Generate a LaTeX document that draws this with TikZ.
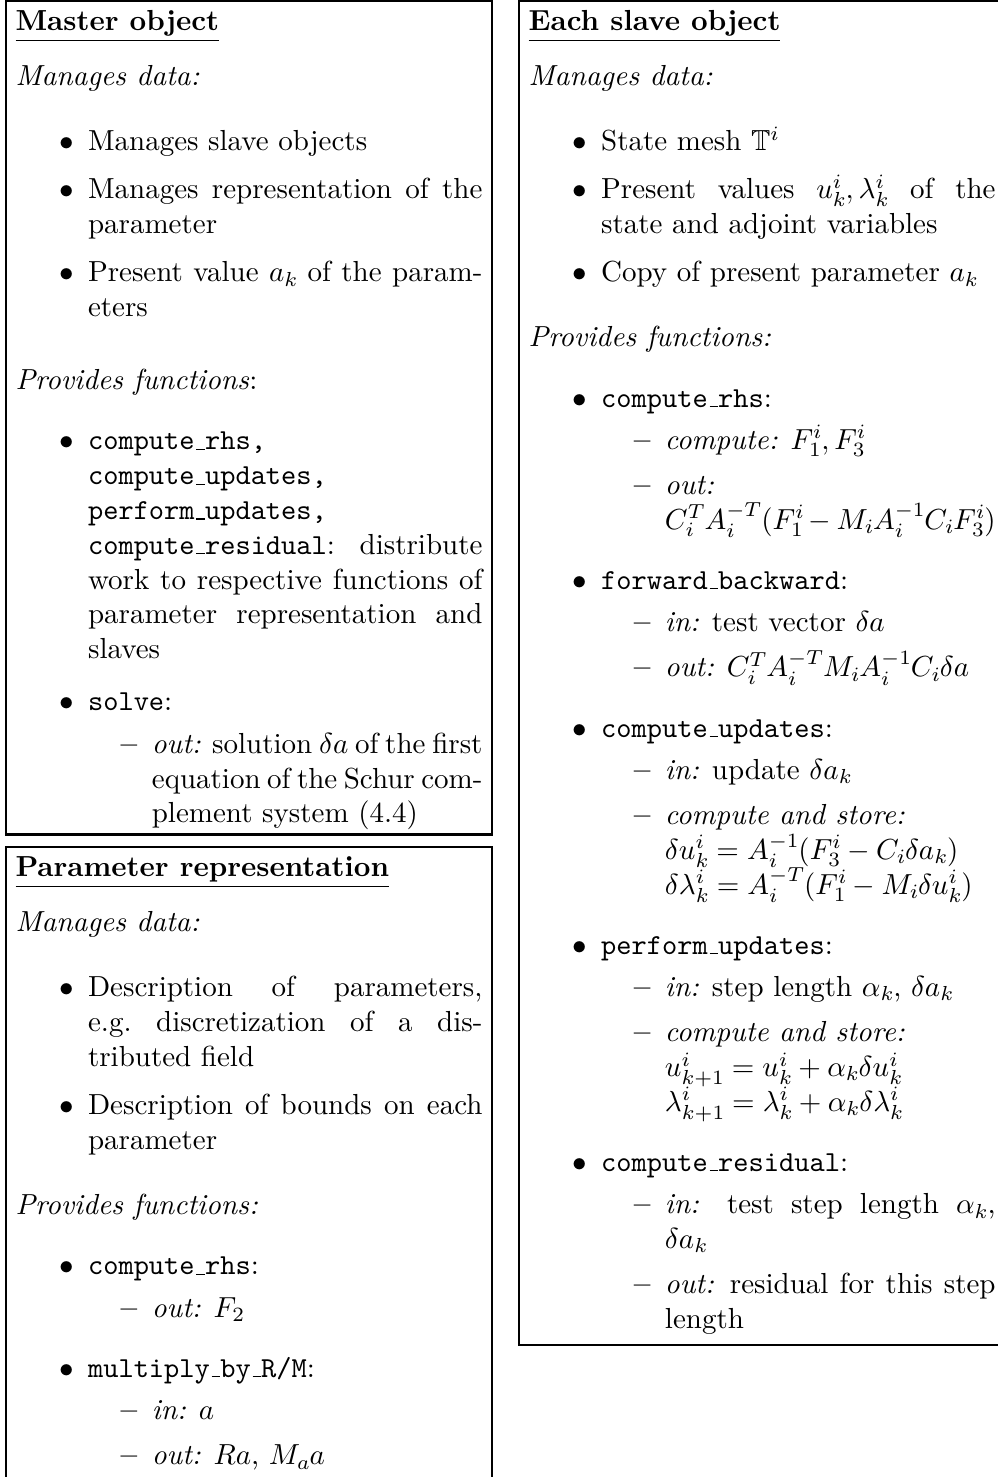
\documentclass[tikz,border=0pt]{standalone}
\usepackage{amsmath}
\usepackage{amssymb}
\usepackage{enumitem}
\usetikzlibrary{positioning}

% narrow underscore for function names
\newcommand{\uscore}{\leavevmode\kern.06em\vbox{\hrule width.3em}}
\newcommand{\fname}[1]{\texttt{#1}}
\newcommand{\objtitle}[1]{\underline{\textbf{#1}}\par\vspace{7pt}}
\newcommand{\sublistend}{\endgraf\vspace{2.7pt}}
\setlength{\scriptspace}{0pt}

\setlist[itemize,1]{label=$\bullet$,topsep=10.5pt,partopsep=0pt,parsep=0pt,itemsep=4.6pt}
\setlist[itemize,2]{label=\normalfont\bfseries\textendash,topsep=2.6pt,partopsep=0pt,parsep=0pt,itemsep=3.6pt,after=\sublistend}

\tikzset{
  objbox/.style={draw, line width=0.8pt, inner sep=3.3pt, outer sep=0pt, anchor=north west}
}

\begin{document}
\begin{tikzpicture}
    % page frame
    \useasboundingbox (0,0) rectangle (343.8pt,-509.3pt);

    % Master object
    \node[objbox] (master) at (2.07pt,-0.2pt) {%
    \begin{minipage}[t][281pt][t]{161pt}
    \objtitle{Master object}
    \textit{Manages data:}
    \begin{itemize}
    \item Manages slave objects
    \item Manages representation of the parameter
    \item Present value $a_k$ of the parameters
    \end{itemize}
    \vspace{2.8pt}
    \textit{Provides functions}:
    \begin{itemize}[topsep=8.7pt,itemsep=6pt]
    \item \fname{compute\uscore rhs,} \fname{compute\uscore updates,} \fname{perform\uscore updates,} \fname{compute\uscore residual}: distribute work to respective functions of parameter representation and slaves
    \item \fname{solve}:
      \begin{itemize}
      \item \emph{out:} solution $\delta a$ of the first equation of the Schur complement system (4.4)
      \end{itemize}
    \end{itemize}
    \end{minipage}};

    % Parameter representation
    \node[objbox] (param) at (2.07pt,-292.1pt) {%
    \begin{minipage}[t][240pt][t]{161pt}
    \objtitle{Parameter representation}
    \textit{Manages data:}
    \begin{itemize}
    \item Description of parameters, e.g.~discretization of a distributed field
    \item Description of bounds on each parameter
    \end{itemize}
    \textit{Provides functions:}
    \begin{itemize}[topsep=8.7pt,itemsep=6pt]
    \item \fname{compute\uscore rhs}:
      \begin{itemize}
      \item \emph{out:} $F_2$
      \end{itemize}
    \item \fname{multiply\uscore by\uscore R/M}:
      \begin{itemize}
      \item \emph{in:} $a$
      \item \emph{out:} $Ra$, $M_a a$
      \end{itemize}
    \end{itemize}
    \end{minipage}};

    % Each slave object
    \node[objbox] (slave) at (179pt,-0.2pt) {%
    \begin{minipage}[t][457pt][t]{161pt}
    \objtitle{Each slave object}
    \textit{Manages data:}
    \begin{itemize}
    \item State mesh $\mathbb{T}^i$
    \item Present values $u_k^i, \lambda_k^i$ of the state and adjoint variables
    \item Copy of present parameter $a_k$
    \end{itemize}
    \textit{Provides functions:}
    \begin{itemize}[topsep=8.7pt,itemsep=6pt]
    \item \fname{compute\uscore rhs}:
      \begin{itemize}
      \item \emph{compute:} $F_1^i, F_3^i$
      \item \emph{out:}\newline $C_i^T A_i^{-T}(F_1^i - M_i A_i^{-1} C_i F_3^i)$
      \end{itemize}
    \item \fname{forward\uscore backward}:
      \begin{itemize}
      \item \emph{in:} test vector $\delta a$
      \item \emph{out:} $C_i^T A_i^{-T} M_i A_i^{-1} C_i \delta a$
      \end{itemize}
    \item \fname{compute\uscore updates}:
      \begin{itemize}
      \item \emph{in:} update $\delta a_k$
      \item \emph{compute and store:}\newline
        $\delta u_k^i = A_i^{-1}(F_3^i - C_i \delta a_k)$\newline
        $\delta \lambda_k^i = A_i^{-T}(F_1^i - M_i \delta u_k^i)$
      \end{itemize}
    \item \fname{perform\uscore updates}:
      \begin{itemize}
      \item \emph{in:} step length $\alpha_k$, $\delta a_k$
      \item \emph{compute and store:}\newline
        $u_{k+1}^i = u_k^i + \alpha_k \delta u_k^i$\newline
        $\lambda_{k+1}^i = \lambda_k^i + \alpha_k \delta \lambda_k^i$
      \end{itemize}
    \item \fname{compute\uscore residual}:
      \begin{itemize}
      \item \emph{in:} test step length $\alpha_k$, $\delta a_k$
      \item \emph{out:} residual for this step length
      \end{itemize}
    \end{itemize}
    \end{minipage}};
\end{tikzpicture}
\end{document}
